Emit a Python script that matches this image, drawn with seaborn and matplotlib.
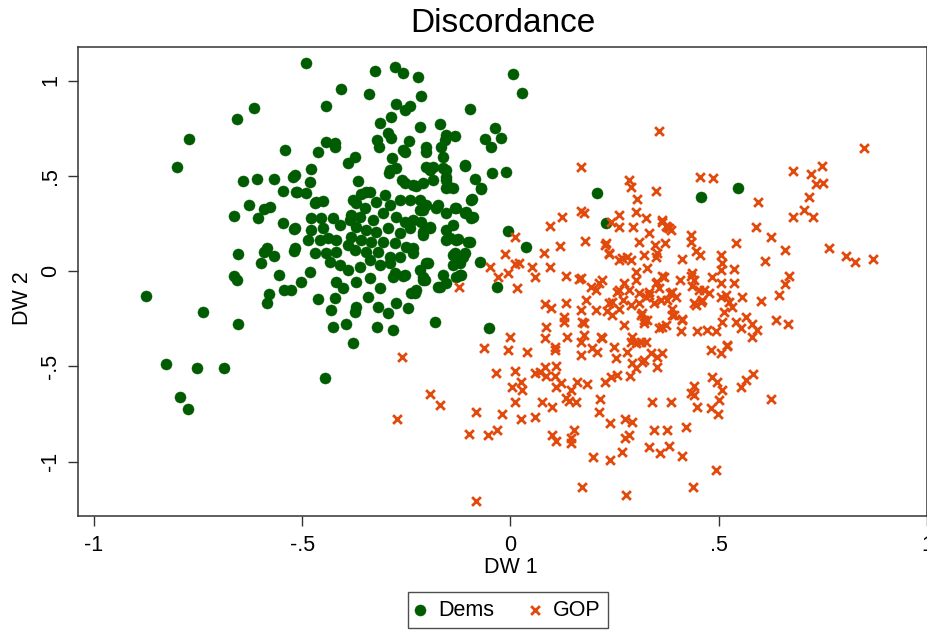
import matplotlib
matplotlib.use("Agg")
import matplotlib.pyplot as plt
import pandas as pd
import seaborn as sns

# ---- data (DW-NOMINATE scores) ----
dem_dw1 = [-0.49, -0.615, -0.656, -0.771, -0.80, -0.541, -0.643, -0.608, -0.567, -0.523,
           -0.547, -0.515, -0.627, -0.663, -0.607, -0.591, -0.576, -0.547, -0.52, -0.653,
           -0.584, -0.591, -0.567, -0.599, -0.52, -0.663, -0.656, -0.556, -0.579, -0.585,
           -0.544, -0.527, -0.874, -0.739, -0.653, -0.826, -0.752, -0.688, -0.794, -0.775,
           -0.324, -0.278, -0.257, -0.221, 0.006, 0.028, -0.406, -0.34, -0.214, -0.442,
           -0.097, -0.274, -0.24, -0.254, -0.286, -0.314, -0.218, -0.17, -0.154, -0.132,
           -0.036, -0.06, -0.046, -0.022, -0.294, -0.286, -0.321, -0.316, -0.244, -0.257,
           -0.202, -0.166, -0.162, -0.442, -0.42, -0.42, -0.461, -0.39, -0.372, -0.284,
           -0.292, -0.274, -0.202, -0.186, -0.161, -0.154, -0.148, -0.108, -0.086, -0.07,
           -0.092, -0.044, -0.01, -0.26, -0.234, -0.21, -0.186, -0.365, -0.478, -0.48,
           -0.518, -0.512, -0.49, -0.47, -0.45, -0.378, -0.338, -0.302, -0.358, -0.254,
           -0.202, -0.11, -0.07, -0.094, -0.466, -0.346, -0.29, -0.254, -0.226, -0.194,
           -0.154, -0.138, -0.174, -0.154, -0.13, -0.106, -0.09, -0.138, -0.154, -0.202,
           -0.218, -0.214, -0.194, -0.21, -0.242, -0.266, -0.29, -0.322, -0.35, -0.362,
           -0.33, -0.306, -0.274, -0.254, -0.242, -0.266, -0.294, -0.322, -0.346, -0.37,
           -0.382, -0.358, -0.334, -0.306, -0.278, -0.25, -0.234, -0.266, -0.29, -0.318,
           -0.346, -0.374, -0.39, -0.418, -0.438, -0.458, -0.478, -0.486, -0.47, -0.442,
           -0.418, -0.434, -0.41, -0.39, -0.362, -0.338, -0.314, -0.29, -0.278, -0.254,
           -0.218, -0.202, -0.21, -0.518, -0.518, -0.454, -0.478, -0.426, -0.41, -0.45,
           -0.386, -0.154, -0.13, -0.098, -0.134, -0.138, -0.114, -0.118, -0.074, -0.162,
           -0.482, -0.502, -0.154, -0.37, -0.382, -0.462, -0.422, -0.43, -0.374, -0.37,
           -0.426, -0.394, -0.378, -0.321, -0.281, -0.318, -0.274, -0.246, -0.294, -0.342,
           -0.238, -0.226, -0.182, -0.052, -0.032, -0.006, 0.038, -0.174, -0.13, -0.21,
           -0.282, -0.258, -0.314, -0.338, -0.37, -0.402, -0.418, -0.444, 0.209, 0.229,
           0.457, 0.547, -0.158, -0.154, -0.154, -0.218, -0.234, -0.21, -0.178, -0.134,
           -0.11, -0.094, -0.21, -0.194, -0.146, -0.126, -0.102, -0.234, -0.138, -0.11,
           -0.122, -0.198, -0.206, -0.122, -0.17, -0.23]
dem_dw2 = [1.093, 0.857, 0.796, 0.691, 0.548, 0.635, 0.472, 0.481, 0.481, 0.495,
           0.421, 0.416, 0.346, 0.29, 0.277, 0.325, 0.334, 0.254, 0.219, 0.088,
           0.119, 0.101, 0.079, 0.044, 0.107, -0.026, -0.047, -0.023, -0.121, -0.166,
           -0.10, -0.10, -0.131, -0.215, -0.278, -0.488, -0.509, -0.509, -0.661, -0.726,
           1.051, 1.069, 1.041, 1.02, 1.034, 0.936, 0.955, 0.929, 0.92, 0.866,
           0.85, 0.875, 0.866, 0.845, 0.81, 0.775, 0.757, 0.77, 0.714, 0.71,
           0.752, 0.691, 0.649, 0.697, 0.723, 0.697, 0.688, 0.652, 0.684, 0.635,
           0.649, 0.652, 0.60, 0.679, 0.673, 0.649, 0.626, 0.568, 0.60, 0.592,
           0.516, 0.539, 0.544, 0.548, 0.539, 0.495, 0.443, 0.551, 0.481, 0.434,
           0.376, 0.513, 0.521, 0.478, 0.451, 0.46, 0.478, 0.474, 0.534, 0.469,
           0.504, 0.416, 0.411, 0.359, 0.369, 0.373, 0.416, 0.399, 0.404, 0.626,
           0.626, 0.556, 0.429, 0.373, 0.364, 0.416, 0.53, 0.464, 0.446, 0.53,
           0.478, 0.434, 0.346, 0.303, 0.329, 0.311, 0.285, 0.241, 0.215, 0.346,
           0.32, 0.259, 0.224, 0.189, 0.373, 0.373, 0.346, 0.364, 0.329, 0.285,
           0.268, 0.303, 0.285, 0.259, 0.224, 0.198, 0.224, 0.206, 0.215, 0.233,
           0.18, 0.163, 0.154, 0.154, 0.145, 0.128, 0.093, 0.075, 0.075, 0.101,
           0.101, 0.11, 0.136, 0.163, 0.172, 0.163, 0.215, 0.163, 0.093, 0.093,
           0.101, 0.049, 0.031, 0.005, 0.023, 0.058, 0.031, 0.04, -0.012, -0.021,
           0.005, 0.04, -0.03, 0.224, 0.119, 0.277, 0.277, 0.277, 0.241, 0.224,
           0.268, 0.163, 0.163, 0.154, 0.093, 0.031, 0.075, -0.021, 0.049, -0.021,
           -0.004, -0.056, -0.065, 0.355, 0.294, -0.149, -0.143, -0.205, -0.214, -0.187,
           -0.292, -0.278, -0.38, -0.292, -0.31, -0.187, -0.17, -0.196, -0.222, -0.135,
           -0.114, -0.10, -0.266, -0.298, -0.086, 0.212, 0.128, -0.082, -0.03, -0.047,
           -0.03, -0.026, -0.091, -0.038, -0.056, -0.091, -0.056, -0.562, 0.411, 0.254,
           0.387, 0.436, 0.688, 0.53, 0.434, 0.373, 0.268, 0.32, 0.329, 0.329,
           0.306, 0.277, 0.206, 0.233, 0.172, 0.166, 0.154, 0.119, 0.084, 0.093,
           0.04, 0.04, -0.047, -0.021, -0.082, -0.117]

gop_dw1 = [0.17, 0.285, 0.289, 0.349, 0.356, 0.305, 0.17, 0.177, 0.125, 0.094,
           0.261, 0.241, 0.261, 0.301, 0.325, 0.295, 0.333, 0.01, 0.18, 0.119,
           0.228, 0.309, 0.348, -0.012, 0.08, 0.237, 0.269, 0.261, 0.281, 0.321,
           0.349, 0.02, 0.01, -0.05, 0.052, 0.094, -0.03, -0.006, 0.058, 0.134,
           0.165, 0.221, 0.273, 0.301, 0.329, 0.301, -0.124, 0.015, 0.194, 0.206,
           0.213, 0.257, 0.285, 0.309, 0.333, 0.182, 0.237, 0.134, 0.082, 0.098,
           0.17, 0.206, 0.233, 0.261, 0.289, 0.309, 0.345, 0.317, 0.129, 0.849,
           0.679, 0.721, 0.749, 0.733, 0.751, 0.455, 0.487, 0.595, 0.717, 0.705,
           0.679, 0.727, 0.589, 0.625, 0.765, 0.805, 0.827, 0.871, 0.541, 0.659,
           0.612, 0.365, 0.373, 0.381, 0.433, 0.433, 0.372, 0.353, 0.413, 0.445,
           0.455, 0.505, 0.508, 0.537, 0.365, 0.349, 0.407, 0.437, 0.433, 0.485,
           0.505, 0.537, 0.669, 0.659, 0.436, 0.453, 0.477, 0.517, 0.524, 0.557,
           0.601, 0.645, 0.383, 0.397, 0.361, 0.389, 0.445, 0.457, 0.513, 0.509,
           0.413, 0.365, 0.409, 0.449, 0.473, 0.493, 0.541, 0.565, 0.553, 0.581,
           0.593, 0.637, 0.667, -0.26, -0.193, -0.17, -0.273, -0.082, -0.10, -0.082,
           -0.054, -0.033, -0.02, -0.064, -0.034, 0.0, -0.006, 0.041, 0.012, 0.026,
           0.004, 0.029, 0.011, 0.026, 0.058, 0.058, 0.07, 0.084, 0.086, 0.11,
           0.106, 0.11, 0.122, 0.082, 0.086, 0.129, 0.106, 0.137, 0.17, 0.17,
           0.177, 0.177, 0.077, 0.101, 0.134, 0.146, 0.141, 0.158, 0.161, 0.185,
           0.101, 0.11, 0.153, 0.146, 0.146, 0.199, 0.24, 0.269, 0.276, 0.284,
           0.276, 0.293, 0.239, 0.212, 0.215, 0.228, 0.241, 0.257, 0.287, 0.293,
           0.301, 0.321, 0.173, 0.277, 0.197, 0.209, 0.249, 0.253, 0.281, 0.293,
           0.289, 0.313, 0.325, 0.221, 0.273, 0.313, 0.329, 0.332, 0.245, 0.321,
           0.389, 0.413, 0.58, 0.317, 0.337, 0.353, 0.365, 0.353, 0.481, 0.505,
           0.519, 0.484, 0.497, 0.507, 0.441, 0.433, 0.441, 0.501, 0.481, 0.499,
           0.449, 0.553, 0.565, 0.583, 0.625, 0.34, 0.385, 0.345, 0.375, 0.421,
           0.359, 0.38, 0.413, 0.493, 0.439, 0.365, 0.377, 0.385, 0.229, 0.237,
           0.289, 0.353, 0.369, 0.357, 0.333, 0.325, 0.261, 0.271, 0.245, 0.17,
           0.389, 0.377, 0.393, 0.373, 0.357, 0.321, 0.505, 0.533, 0.441, 0.461,
           0.465, 0.173, 0.106, 0.218, 0.301, 0.521, 0.505, 0.441]
gop_dw2 = [0.544, 0.478, 0.443, 0.421, 0.733, 0.376, 0.317, 0.303, 0.285, 0.236,
           0.294, 0.259, 0.233, 0.311, 0.277, 0.229, 0.201, 0.18, 0.159, 0.131,
           0.136, 0.154, 0.136, 0.089, 0.096, 0.089, 0.067, 0.058, 0.075, 0.084,
           0.075, 0.04, 0.037, 0.019, 0.023, 0.023, -0.03, -0.012, -0.03, -0.026,
           -0.044, -0.047, -0.061, -0.047, 0.014, -0.004, -0.086, -0.091, -0.082, -0.10,
           -0.065, -0.109, -0.10, -0.117, -0.126, -0.152, -0.17, -0.166, -0.173, -0.196,
           -0.205, -0.205, -0.208, -0.201, -0.178, -0.17, -0.17, -0.222, -0.24, 0.644,
           0.525, 0.509, 0.551, 0.455, 0.464, 0.495, 0.487, 0.364, 0.39, 0.32,
           0.285, 0.285, 0.229, 0.18, 0.119, 0.079, 0.049, 0.061, 0.145, 0.11,
           0.054, 0.259, 0.236, 0.224, 0.189, 0.154, 0.145, 0.093, 0.061, 0.107,
           0.084, 0.084, 0.04, 0.01, -0.026, -0.065, -0.047, -0.009, -0.026, -0.03,
           -0.065, -0.061, -0.026, -0.068, -0.079, -0.10, -0.117, -0.126, -0.161, -0.135,
           -0.157, -0.126, -0.117, -0.135, -0.152, -0.201, -0.178, -0.161, -0.214, -0.266,
           -0.254, -0.292, -0.313, -0.313, -0.31, -0.313, -0.266, -0.24, -0.301, -0.278,
           -0.31, -0.257, -0.278, -0.45, -0.646, -0.703, -0.778, -1.206, -0.856, -0.739,
           -0.862, -0.835, -0.751, -0.406, -0.534, -0.345, -0.415, -0.424, -0.523, -0.581,
           -0.611, -0.625, -0.688, -0.778, -0.765, -0.534, -0.529, -0.506, -0.551, -0.499,
           -0.551, -0.607, -0.59, -0.353, -0.292, -0.266, -0.415, -0.345, -0.441, -0.371,
           -0.275, -0.336, -0.686, -0.712, -0.668, -0.625, -0.681, -0.686, -0.581, -0.593,
           -0.861, -0.891, -0.835, -0.878, -0.904, -0.975, -0.992, -0.949, -0.878, -0.861,
           -0.778, -0.791, -0.796, -0.739, -0.673, -0.581, -0.555, -0.546, -0.551, -0.485,
           -0.511, -0.467, -1.135, -1.177, -0.406, -0.424, -0.397, -0.458, -0.424, -0.345,
           -0.371, -0.371, -0.371, -0.353, -0.283, -0.231, -0.257, -0.922, -0.231, -0.275,
           -0.231, -0.257, -0.345, -0.476, -0.432, -0.45, -0.429, -0.502, -0.415, -0.432,
           -0.394, -0.555, -0.581, -0.625, -0.604, -0.642, -0.651, -0.677, -0.718, -0.751,
           -0.716, -0.607, -0.572, -0.541, -0.673, -0.689, -0.689, -0.835, -0.835, -0.82,
           -0.957, -0.919, -0.969, -1.045, -1.135, 0.268, 0.233, 0.215, 0.145, 0.093,
           0.058, -0.056, -0.033, -0.091, -0.109, -0.135, -0.10, -0.152, -0.161, -0.038,
           -0.109, -0.152, -0.231, -0.283, -0.301, -0.257, -0.135, -0.187, -0.17, -0.152,
           -0.10, -0.266, -0.397, -0.345, -0.38, -0.388, 0.005, -0.047]

x_ticks = [-1, -0.5, 0, 0.5, 1]
x_tick_labels = ["-1", "-.5", "0", ".5", "1"]
y_ticks = [-1, -0.5, 0, 0.5, 1]
y_tick_labels = ["-1", "-.5", "0", ".5", "1"]

GREEN = "#005c00"
ORANGE = "#e2490c"

sns.set_theme(style="white")
plt.rcParams["font.family"] = ["Liberation Sans", "DejaVu Sans"]
plt.rcParams["text.color"] = "black"

dem = pd.DataFrame({"DW 1": dem_dw1, "DW 2": dem_dw2})
gop = pd.DataFrame({"DW 1": gop_dw1, "DW 2": gop_dw2})

fig = plt.figure(figsize=(9.28, 6.33), dpi=100)
ax = fig.add_axes([78 / 928, 117 / 633, 849 / 928, 469 / 633])

sns.scatterplot(data=dem, x="DW 1", y="DW 2", ax=ax, marker="o", s=64,
                color=GREEN, edgecolor=GREEN, linewidth=0.3, label="Dems", zorder=3)
sns.scatterplot(data=gop, x="DW 1", y="DW 2", ax=ax, marker="x", s=40,
                color=ORANGE, linewidth=2.0, label="GOP", zorder=4)

ax.set_xlim(-1.038, 1.0)
ax.set_ylim(-1.286, 1.176)
ax.set_xticks(x_ticks)
ax.set_xticklabels(x_tick_labels)
ax.set_yticks(y_ticks)
ax.set_yticklabels(y_tick_labels)
ax.tick_params(axis="both", direction="out", length=7, width=1.0,
               color="#333333", labelsize=15.5, labelcolor="black",
               bottom=True, left=True)
ax.tick_params(axis="x", pad=7)
ax.tick_params(axis="y", pad=5, labelrotation=90)
for t in ax.get_yticklabels():
    t.set_va("center")

for side, sp in ax.spines.items():
    sp.set_visible(True)
    sp.set_color("#333333")
    sp.set_linewidth(1.1)

ax.set_xlabel("DW 1", fontsize=15.5, color="black")
ax.set_ylabel("DW 2", fontsize=15.5, color="black")
ax.xaxis.set_label_coords((511 - 78) / 849, (516 - 557) / 469)
ax.yaxis.set_label_coords((33 - 78) / 849, (516 - 298) / 469)

ax.set_title("Discordance", fontsize=24, color="black", pad=0, y=(633 - 8 - 117) / 469, va="top")

leg = ax.legend(loc="upper center", bbox_to_anchor=(508 / 928, 1 - 592 / 633),
                bbox_transform=fig.transFigure, ncol=2, frameon=True, fancybox=False,
                fontsize=15.5, borderpad=0.35, handlelength=0.45, handletextpad=0.6,
                columnspacing=1.7, borderaxespad=0)
leg.get_frame().set_edgecolor("#222222")
leg.get_frame().set_linewidth(1.0)
for t in leg.get_texts():
    t.set_color("black")

fig.savefig("out.png", dpi=100, facecolor="white")
